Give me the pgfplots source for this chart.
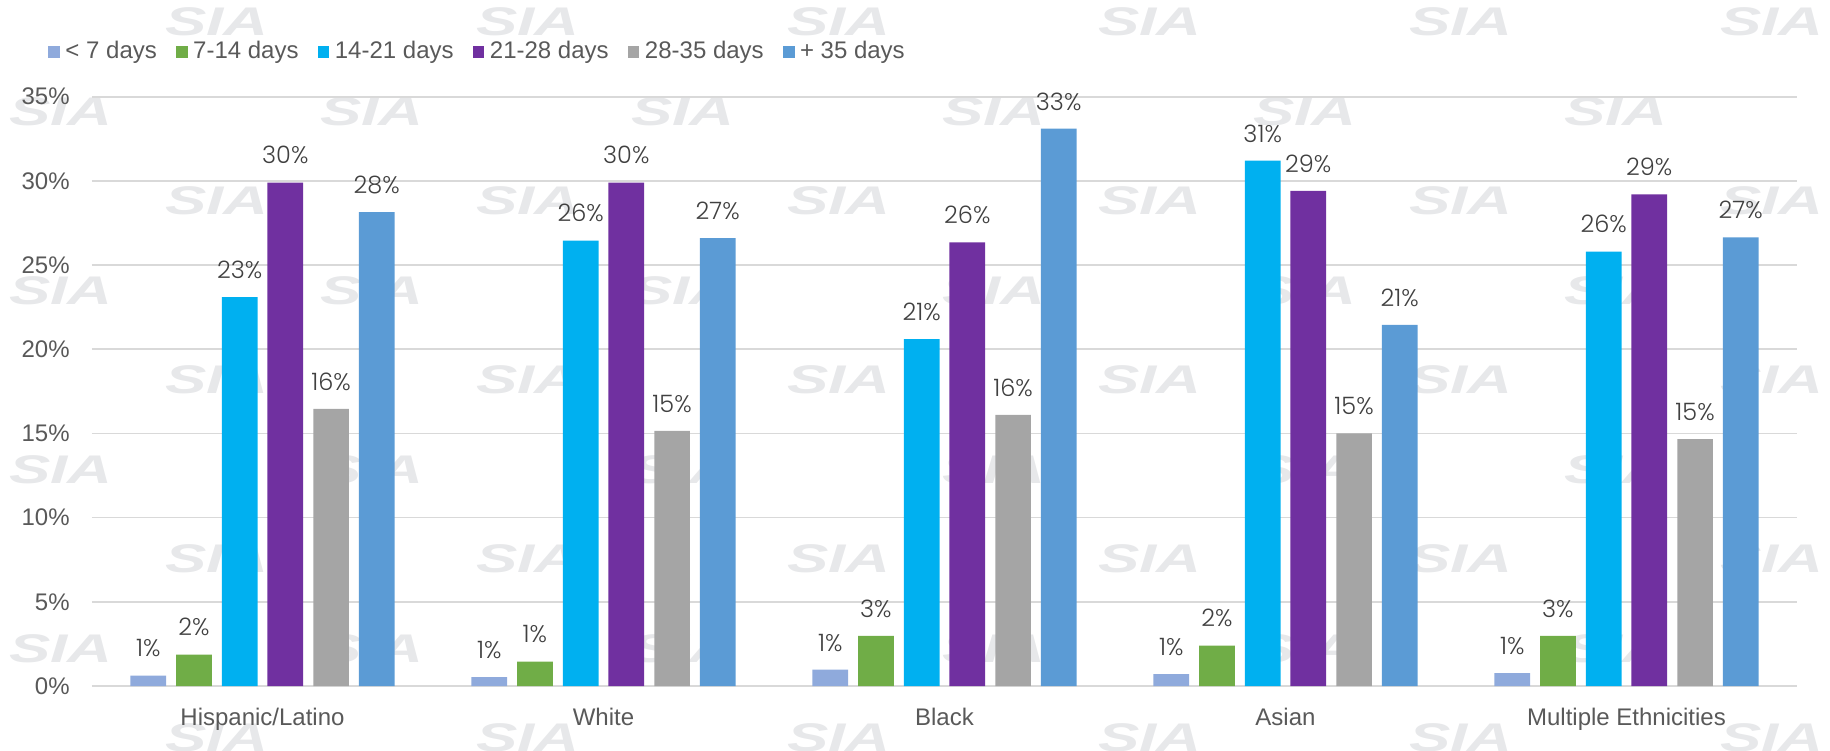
\documentclass[border=0pt]{standalone}
\usepackage{fontspec}
\setmainfont{Liberation Sans}
\newfontfamily\lblfont{Poppins Light}
\newfontfamily\markfont{Liberation Sans}
\usepackage{pgfplots}
\usepackage{pgfplotstable}
\pgfplotsset{compat=1.18}

\definecolor{cLt7}{HTML}{8FAADC}
\definecolor{c7to14}{HTML}{70AD47}
\definecolor{c14to21}{HTML}{00B0F0}
\definecolor{c21to28}{HTML}{7030A0}
\definecolor{c28to35}{HTML}{A5A5A5}
\definecolor{cGt35}{HTML}{5B9BD5}
\definecolor{gridgray}{HTML}{D9D9D9}
\definecolor{tickgray}{HTML}{595959}
\definecolor{lblgray}{HTML}{404040}
\definecolor{markgray}{HTML}{E7E8EA}

% share of respondents (%) per ethnicity (x) and duration bucket
\pgfplotstableread{
x  lt7   d7to14  d14to21  d21to28  d28to35  gt35
0  0.62  1.87    23.10    29.90    16.46    28.15
1  0.52  1.45    26.45    29.90    15.15    26.60
2  0.97  2.97    20.60    26.35    16.10    33.10
3  0.70  2.40    31.20    29.40    15.00    21.45
4  0.76  2.97    25.80    29.20    14.66    26.65
}\datatable

% tiled background logo
\newcommand\logo[2]{\node[font=\markfont\bfseries\itshape\fontsize{20}{20}\selectfont,
  text=markgray, xscale=1.55, inner sep=0pt] at (#1pt,#2pt) {SIA};}

\begin{document}
\begin{tikzpicture}
\useasboundingbox (-46pt,-32pt) rectangle (869pt,343pt);
\begin{scope}
\clip (-46pt,-32pt) rectangle (869pt,343pt);
\foreach \lx in {62.5,218,373.5,529,684.5,840} {
  \foreach \ly in {332,242.5,153,63.5,-26} {\logo{\lx}{\ly}}
}
\foreach \lx in {-15.5,140,295.5,451,606.5,762} {
  \foreach \ly in {287,197.5,108,18.5} {\logo{\lx}{\ly}}
}
\end{scope}
\begin{axis}[
  at={(0pt,0pt)}, anchor=south west,
  scale only axis,
  width=852.5pt, height=294.65pt,
  ybar, bar width=17.85pt,
  xmin=-0.5, xmax=4.5,
  ymin=0, ymax=35,
  clip=false,
  xtick={0,1,2,3,4},
  xticklabels={Hispanic/Latino,White,Black,Asian,Multiple Ethnicities},
  ytick={0,5,10,15,20,25,30,35},
  yticklabel={\pgfmathprintnumber{\tick}\%},
  /pgf/number format/assume math mode=true,
  major tick length=0pt,
  axis line style={draw=none},
  ymajorgrids,
  grid style={draw=gridgray, line width=0.8pt},
  tick label style={font=\fontsize{12}{14}\selectfont, text=tickgray},
  xticklabel style={anchor=base, inner sep=0pt, yshift=-19.5pt},
  yticklabel style={anchor=east, inner sep=0pt, xshift=-11pt},
  nodes near coords={\pgfmathprintnumber[fixed,precision=0]{\pgfplotspointmeta}\%},
  every node near coord/.append style={font=\lblfont\fontsize{12}{14}\selectfont,
    text=lblgray, anchor=south, inner sep=0pt, yshift=9pt},
  legend columns=-1,
  legend image code/.code={\fill[#1] (0pt,-2.9pt) rectangle (5.8pt,2.9pt);},
  legend style={draw=none, fill=none, inner sep=0pt,
    at={(0,1)}, anchor=west, xshift=-22pt, yshift=22.5pt,
    font=\fontsize{12}{14}\selectfont, text=tickgray,
    nodes={inner sep=0pt},
    /tikz/every even column/.append style={column sep=9.6pt},
    /tikz/every odd column/.append style={column sep=2.75pt}},
]
\addplot[fill=cLt7, draw=none, bar shift=-57.1pt] table[x=x, y=lt7] {\datatable};
\addplot[fill=c7to14, draw=none, bar shift=-34.3pt] table[x=x, y=d7to14] {\datatable};
\addplot[fill=c14to21, draw=none, bar shift=-11.4pt] table[x=x, y=d14to21] {\datatable};
\addplot[fill=c21to28, draw=none, bar shift=11.4pt] table[x=x, y=d21to28] {\datatable};
\addplot[fill=c28to35, draw=none, bar shift=34.3pt] table[x=x, y=d28to35] {\datatable};
\addplot[fill=cGt35, draw=none, bar shift=57.1pt] table[x=x, y=gt35] {\datatable};
\legend{< 7 days, 7-14 days, 14-21 days, 21-28 days, 28-35 days, + 35 days}
\end{axis}
\end{tikzpicture}
\end{document}
